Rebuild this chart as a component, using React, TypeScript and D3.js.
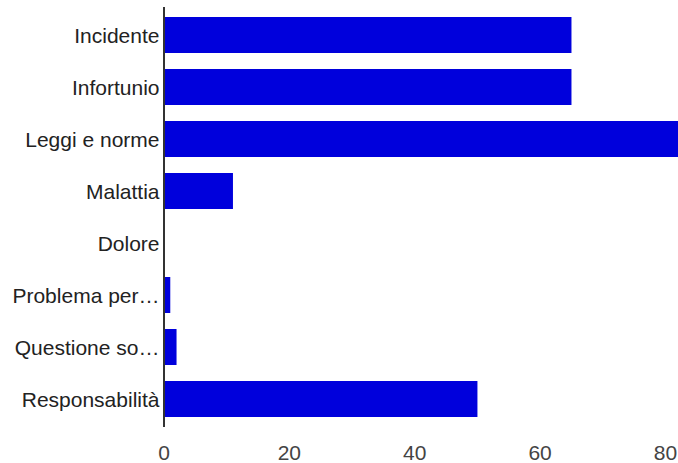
import React from "react";
import * as d3 from "d3";

const categories = [
  "Incidente",
  "Infortunio",
  "Leggi e norme",
  "Malattia",
  "Dolore",
  "Problema per…",
  "Questione so…",
  "Responsabilità",
];
const values = [65, 65, 85, 11, 0, 1, 2, 50];
const xTicks = [0, 20, 40, 60, 80];

const W = 678;
const H = 463;

export default function App() {
  const x0 = 164;
  const x = d3.scaleLinear().domain([0, 80]).range([x0, 665.5]);
  const yb = d3
    .scaleBand<string>()
    .domain(categories)
    .range([9, 425])
    .paddingInner(16 / 52)
    .paddingOuter(8 / 52);

  const font = "'Liberation Sans', Arial, sans-serif";
  return (
    <svg
      width={W}
      height={H}
      style={{ position: "absolute", left: 0, top: 0, background: "#fff" }}
      fontFamily={font}
    >
      {categories.map((c, i) => (
        <rect
          key={c}
          x={x(0)}
          y={yb(c)}
          width={Math.max(0, x(values[i]) - x(0))}
          height={yb.bandwidth()}
          fill="#0000DC"
        />
      ))}
      <line x1={x0} x2={x0} y1={7} y2={427} stroke="#333" strokeWidth={2} />
      {categories.map((c) => (
        <text
          key={c}
          x={159.5}
          y={(yb(c) as number) + yb.bandwidth() / 2}
          dy="0.36em"
          textAnchor="end"
          fontSize={21}
          fill="#222"
        >
          {c}
        </text>
      ))}
      {xTicks.map((t) => (
        <text
          key={t}
          x={x(t)}
          y={452}
          dy="0.36em"
          textAnchor="middle"
          fontSize={21}
          fill="#444"
        >
          {t}
        </text>
      ))}
    </svg>
  );
}
